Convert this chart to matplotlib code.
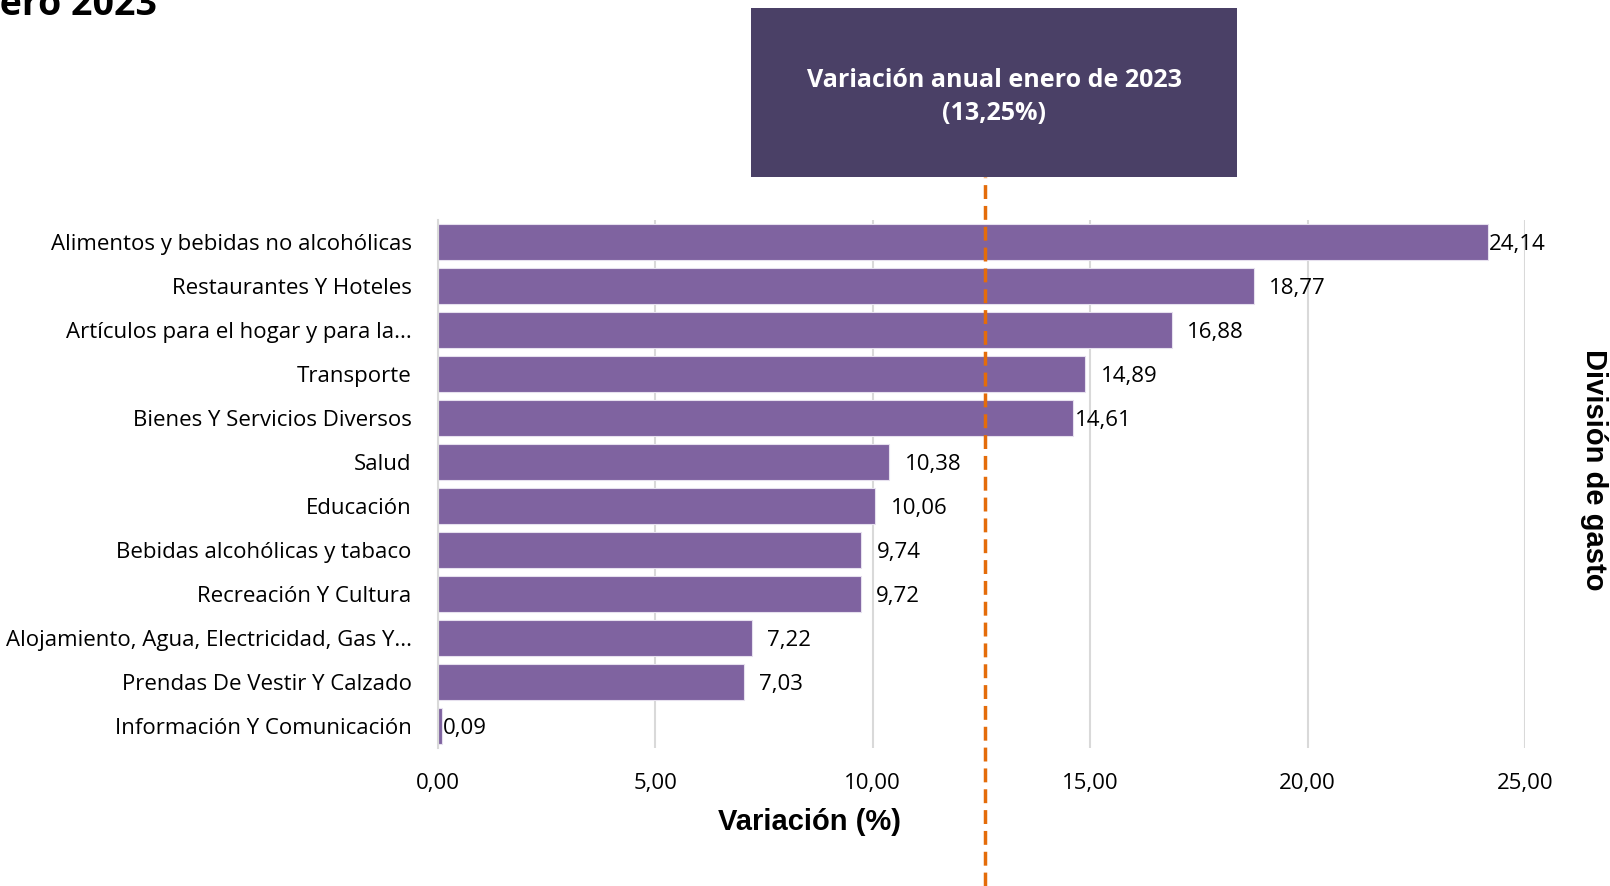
import matplotlib.pyplot as plt
import matplotlib.transforms as mtransforms
from matplotlib.patches import Rectangle

categories = [
    'Alimentos y bebidas no alcohólicas',
    'Restaurantes Y Hoteles',
    'Artículos para el hogar y para la...',
    'Transporte',
    'Bienes Y Servicios Diversos',
    'Salud',
    'Educación',
    'Bebidas alcohólicas y tabaco',
    'Recreación Y Cultura',
    'Alojamiento, Agua, Electricidad, Gas Y...',
    'Prendas De Vestir Y Calzado',
    'Información Y Comunicación',
]
values = [24.14, 18.77, 16.88, 14.89, 14.61, 10.38, 10.06, 9.74, 9.72, 7.22, 7.03, 0.09]
x_ticks = [0, 5, 10, 15, 20, 25]
line_value = 12.58  # where the dashed line sits in the picture
box_text = 'Variación anual enero de 2023\n(13,25%)'

# label offsets from bar end, in points
label_pad = [1, 11, 11, 11, 1, 11, 11, 11, 11, 11, 11, 1]

BAR = '#7f63a0'
ORANGE = '#e46c0a'
BOX = '#4a4066'

plt.rcParams['font.family'] = ['Open Sans', 'DejaVu Sans']

fig = plt.figure(figsize=(16.1, 8.86), dpi=100)
ax = fig.add_axes([438 / 1610, 1 - 748 / 886, (1525 - 438) / 1610, (748 - 220) / 886])

ypos = list(range(len(categories)))
ax.barh(ypos, values, height=0.8, color=BAR, edgecolor='#e6e0ee', linewidth=0.8, zorder=2)
ax.set_ylim(len(categories) - 0.5, -0.5)
ax.set_xlim(0, 25)

ax.set_xticks(x_ticks)
ax.set_xticklabels([f'{t:.2f}'.replace('.', ',') for t in x_ticks], fontsize=16)
ax.set_yticks(ypos)
ax.set_yticklabels(categories, fontsize=16)
ax.tick_params(axis='x', length=0, pad=18)
ax.tick_params(axis='y', length=0, pad=19)

ax.grid(axis='x', color='#d9d9d9', linewidth=1.5, zorder=0)
for s in ['top', 'right', 'bottom']:
    ax.spines[s].set_visible(False)
ax.spines['left'].set_color('#d9d9d9')
ax.spines['left'].set_linewidth(1.5)

for i, v in enumerate(values):
    ax.annotate(f'{v:.2f}'.replace('.', ','), (v, i), xytext=(label_pad[i], -2),
                textcoords='offset points', ha='left', va='center', fontsize=16)

# dashed reference line from the box down to the bottom of the figure
trans = mtransforms.blended_transform_factory(ax.transData, fig.transFigure)
ax.plot([line_value, line_value], [0, 1 - 177 / 886], color=ORANGE, lw=2.5,
        ls=(0, (4, 2)), transform=trans, clip_on=False, zorder=3)

# annotation box
fig.patches.append(Rectangle((751 / 1610, 1 - 177 / 886), (1237 - 751) / 1610, (177 - 8) / 886,
                             transform=fig.transFigure, facecolor=BOX, edgecolor='none'))
fig.text((751 + 1237) / 2 / 1610, 1 - 97 / 886, box_text, ha='center', va='center',
         color='white', fontsize=18, fontweight='bold', linespacing=1.4)

fig.text(810 / 1610, 1 - 822 / 886, 'Variación (%)', ha='center', va='center',
         fontsize=21, fontweight='bold', family='Liberation Sans')
fig.text(1594 / 1610, 1 - 470 / 886, 'División de gasto', ha='center', va='center',
         rotation=-90, fontsize=21, fontweight='bold', family='Liberation Sans')

# title cut off at the top of the picture
fig.text(157 / 1610, 1 - 15 / 886, 'enero 2023', ha='right', va='baseline',
         fontsize=27, fontweight='bold')

fig.savefig('out.png', dpi=100)
